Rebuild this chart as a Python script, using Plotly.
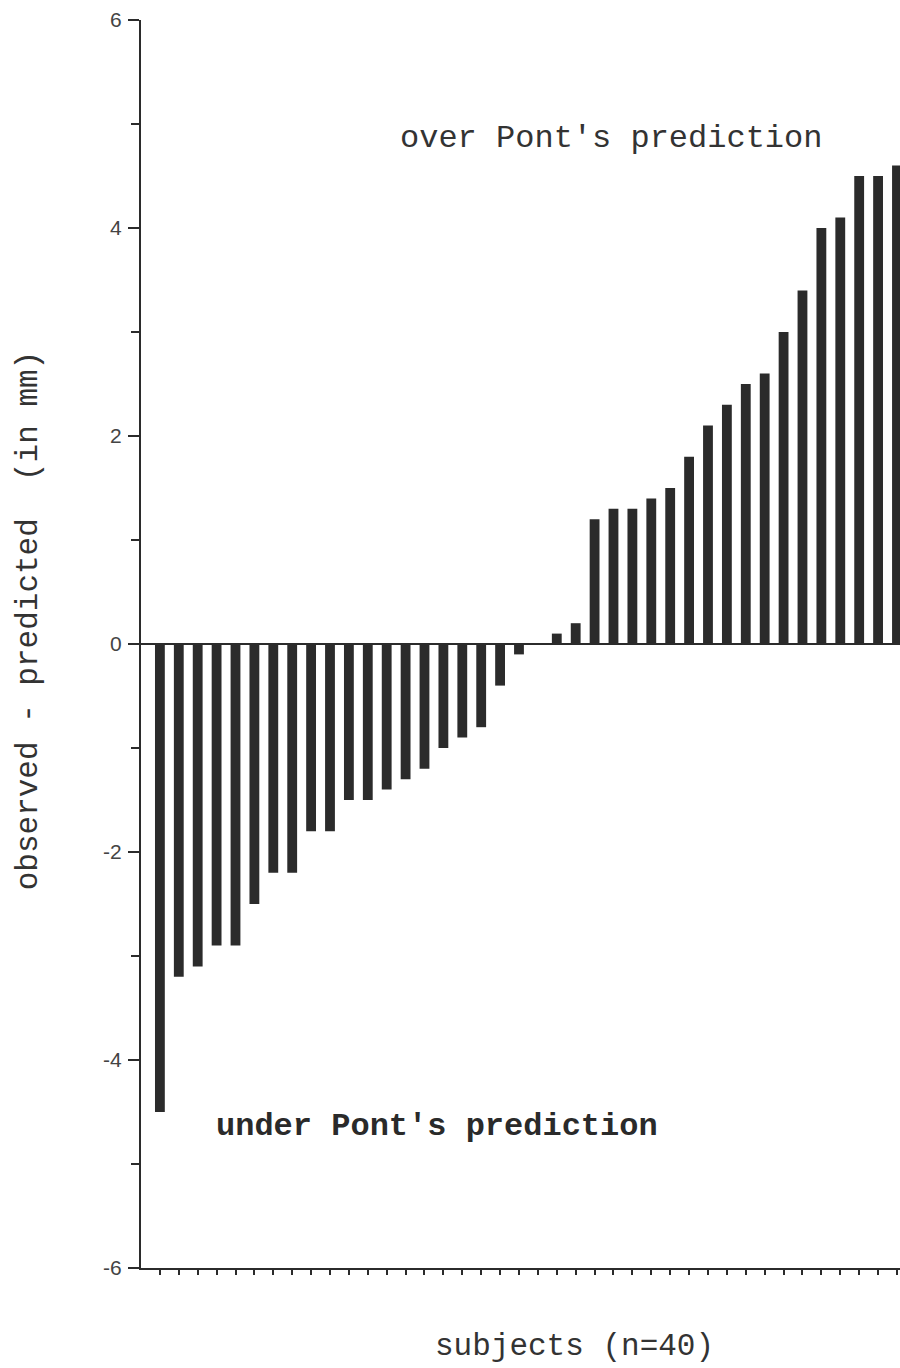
import plotly.graph_objects as go

# Difference between observed and predicted arch width for each subject, sorted
subjects = list(range(1, 41))
difference_mm = [
    -4.5, -3.2, -3.1, -2.9, -2.9, -2.5, -2.2, -2.2, -1.8, -1.8,
    -1.5, -1.5, -1.4, -1.3, -1.2, -1.0, -0.9, -0.8, -0.4, -0.1,
    0.0, 0.1, 0.2, 1.2, 1.3, 1.3, 1.4, 1.5, 1.8, 2.1,
    2.3, 2.5, 2.6, 3.0, 3.4, 4.0, 4.1, 4.5, 4.5, 4.6,
]
y_ticks = [-6, -4, -2, 0, 2, 4, 6]
y_tick_labels = ["-6", "-4", "-2", "0", "2", "4", "6"]
y_minor_ticks = [-5, -3, -1, 1, 3, 5]

ink = "#2b2b2b"
mono = "Liberation Mono, Courier New, monospace"

fig = go.Figure(
    go.Bar(
        x=subjects,
        y=difference_mm,
        width=0.52,
        marker=dict(color=ink, line=dict(width=0)),
    )
)

fig.update_layout(
    width=900,
    height=1368,
    margin=dict(l=141, r=0, t=20, b=100),
    paper_bgcolor="white",
    plot_bgcolor="white",
    showlegend=False,
    xaxis=dict(
        range=[0, 40.16],
        showline=True,
        linecolor=ink,
        linewidth=2,
        ticks="outside",
        tickvals=subjects,
        ticklen=5,
        tickwidth=2,
        tickcolor=ink,
        showticklabels=False,
        showgrid=False,
        zeroline=False,
    ),
    yaxis=dict(
        range=[-6, 6],
        showline=True,
        linecolor=ink,
        linewidth=2,
        ticks="outside",
        tickvals=y_ticks,
        ticktext=y_tick_labels,
        ticklen=11,
        tickwidth=1.5,
        tickcolor=ink,
        minor=dict(tickvals=y_minor_ticks, ticks="outside", ticklen=8,
                   tickwidth=1.5, tickcolor=ink),
        tickfont=dict(family="Liberation Sans, Arial, sans-serif", size=21,
                      color="#444"),
        ticklabelstandoff=2,
        showgrid=False,
        zeroline=True,
        zerolinecolor=ink,
        zerolinewidth=2,
    ),
    annotations=[
        dict(text="over Pont's prediction", x=24.87, y=4.86, xref="x", yref="y",
             showarrow=False, font=dict(family=mono, size=32, color="#333")),
        dict(text="<b>under Pont's prediction</b>", x=15.64, y=-4.64,
             xref="x", yref="y", showarrow=False,
             font=dict(family=mono, size=32, color="#2a2a2a")),
        dict(text="subjects (n=40)", x=0.5718, y=-0.0633, xref="paper",
             yref="paper", xanchor="center", yanchor="middle",
             showarrow=False, font=dict(family=mono, size=31, color="#333")),
        dict(text="observed - predicted  (in mm)", x=-0.1489, y=0.519,
             xref="paper", yref="paper", xanchor="center", yanchor="middle",
             textangle=-90, showarrow=False,
             font=dict(family=mono, size=31, color="#333")),
    ],
)

fig.write_html("out.html")
